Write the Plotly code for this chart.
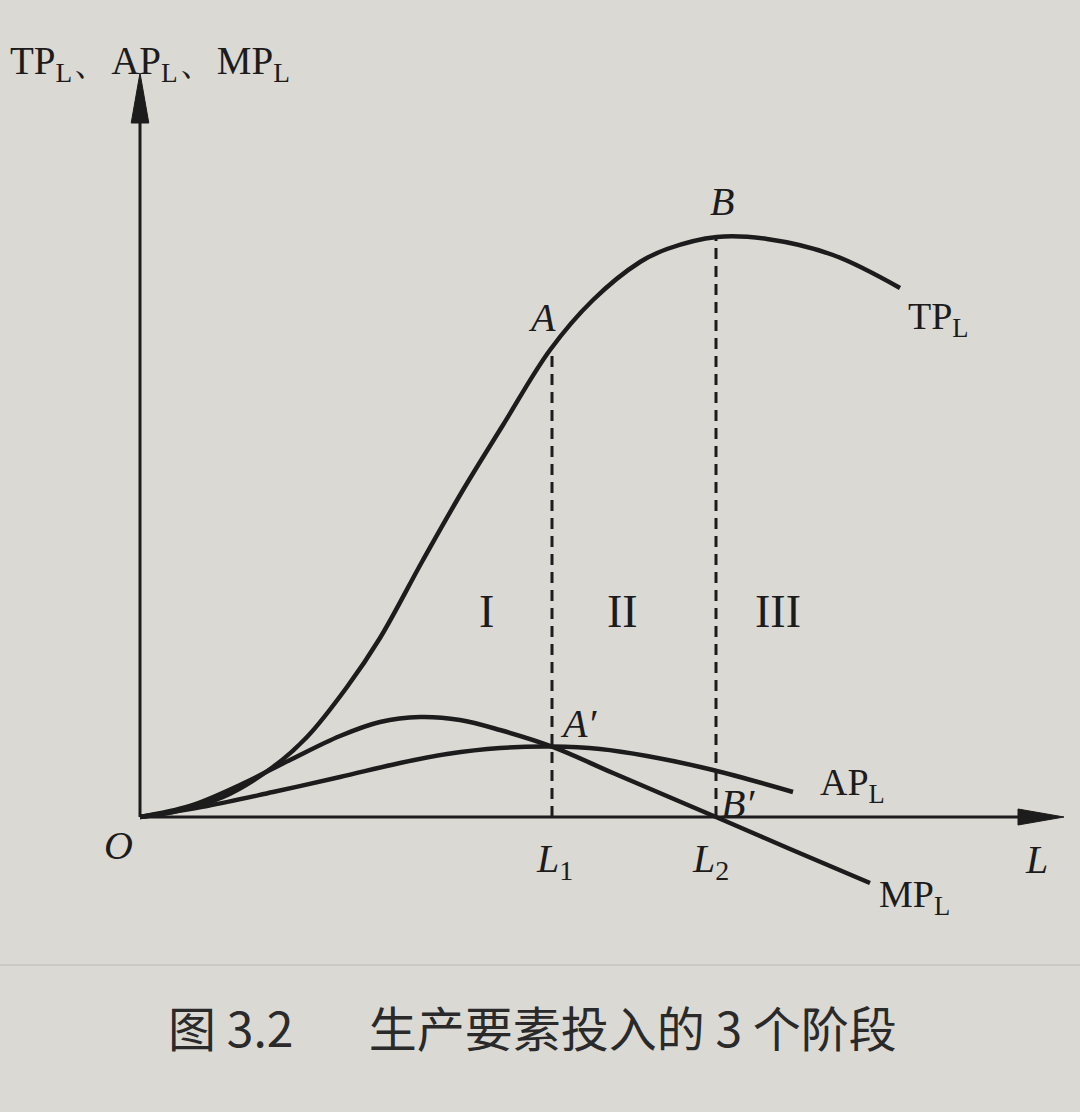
import plotly.graph_objects as go

# ---- data (L units, output units) ----
tp_L = [0, 0.825, 2.075, 3.325, 4.175, 5.175, 6.0, 7.075, 8.075, 9.075, 10.25, 11.325, 12.5, 13.175, 14.425, 15.675, 17.325, 19.0]
tp_Y = [0, 0.125, 0.5, 1.25, 2.0, 3.25, 4.475, 6.425, 8.175, 9.8, 11.675, 12.925, 13.875, 14.2, 14.5, 14.45, 14.05, 13.225]

mp_L = [0, 1.25, 2.5, 3.75, 5.0, 6.0, 7.0, 8.0, 9.0, 10.3, 11.825, 14.4, 16.25, 18.25]
mp_Y = [0, 0.275, 0.8, 1.425, 2.025, 2.375, 2.5, 2.425, 2.175, 1.76, 1.1, 0, -0.8, -1.65]

ap_L = [0, 1.675, 3.325, 5.0, 6.5, 7.675, 9.0, 10.3, 11.5, 12.675, 14.325, 16.325]
ap_Y = [0, 0.275, 0.625, 1.0, 1.35, 1.575, 1.725, 1.76, 1.7, 1.525, 1.175, 0.625]

L1, L2 = 10.3, 14.4
A_Y, B_Y = 11.7, 14.5
X_AXIS_END, Y_AXIS_END = 23.1, 18.6

y_title = "TP<sub>L</sub>、AP<sub>L</sub>、MP<sub>L</sub>"
caption = "图 3.2" + "\u00a0" * 7 + "生产要素投入的 3 个阶段"

INK = "#1c1c1c"
BG = "#dbd9d4"
SERIF = "Liberation Serif"

fig = go.Figure()
for xs, ys in [(tp_L, tp_Y), (mp_L, mp_Y), (ap_L, ap_Y)]:
    fig.add_trace(go.Scatter(x=xs, y=ys, mode="lines",
                             line=dict(color=INK, width=4.5, shape="spline", smoothing=1.0),
                             hoverinfo="skip", showlegend=False))

shapes = []
# axes
shapes.append(dict(type="line", x0=0, y0=0, x1=0, y1=Y_AXIS_END - 0.5, xref="x", yref="y",
                   line=dict(color=INK, width=3)))
shapes.append(dict(type="line", x0=0, y0=0, x1=X_AXIS_END - 0.5, y1=0, xref="x", yref="y",
                   line=dict(color=INK, width=3)))
# arrow heads
shapes.append(dict(type="path", xref="x", yref="y",
                   path=f"M 0 {Y_AXIS_END} L -0.22 {Y_AXIS_END-1.25} L 0.22 {Y_AXIS_END-1.25} Z",
                   fillcolor=INK, line=dict(color=INK, width=1)))
shapes.append(dict(type="path", xref="x", yref="y",
                   path=f"M {X_AXIS_END} 0 L {X_AXIS_END-1.15} -0.2 L {X_AXIS_END-1.15} 0.2 Z",
                   fillcolor=INK, line=dict(color=INK, width=1)))
# dashed guides
for lx, ly in [(L1, A_Y), (L2, B_Y)]:
    shapes.append(dict(type="line", x0=lx, y0=0, x1=lx, y1=ly, xref="x", yref="y",
                       line=dict(color=INK, width=3, dash="11px,7px")))
# faint page edge line from photo
shapes.append(dict(type="line", xref="paper", yref="paper", x0=0, x1=1, y0=1-965/1112, y1=1-965/1112,
                   line=dict(color="#cbc9c3", width=2)))

ann = []
def t(text, x, y, size=40, xanchor="center", italic=False, family=SERIF):
    ann.append(dict(text=f"<i>{text}</i>" if italic else text, x=x, y=y, xref="x", yref="y",
                    showarrow=False, xanchor=xanchor, yanchor="middle",
                    font=dict(family=family, size=size, color=INK)))

t(y_title, -3.3, 18.85, size=39, xanchor="left")
t("B", 14.55, 15.4, italic=True)
t("A", 10.05, 12.5, italic=True)
t("TP<sub>L</sub>", 19.95, 12.45, size=38)
t("I", 8.65, 5.15, size=46)
t("II", 12.05, 5.15, size=46)
t("III", 15.95, 5.15, size=46)
t("A′", 10.95, 2.35, italic=True)
t("B′", 14.95, 0.35, italic=True)
t("AP<sub>L</sub>", 17.8, 0.8, size=38)
t("MP<sub>L</sub>", 19.35, -2.0, size=38)
t("O", -0.55, -0.7, italic=True)
t("<i>L</i><sub>1</sub>", 10.35, -1.1)
t("<i>L</i><sub>2</sub>", 14.25, -1.1)
t("L", 22.4, -1.05, italic=True)

ann.append(dict(text=caption, x=532/1080, y=1-1026/1112, xref="paper", yref="paper",
                showarrow=False, xanchor="center", yanchor="middle",
                font=dict(family="Noto Sans CJK SC", size=48, color="#2a2a2a")))

fig.update_layout(
    width=1080, height=1112,
    margin=dict(l=0, r=0, t=0, b=0),
    paper_bgcolor=BG, plot_bgcolor=BG,
    xaxis=dict(range=[-3.5, 23.5], visible=False, fixedrange=True),
    yaxis=dict(range=[-7.375, 20.425], visible=False, fixedrange=True),
    shapes=shapes, annotations=ann,
)
fig.write_html("out.html")
